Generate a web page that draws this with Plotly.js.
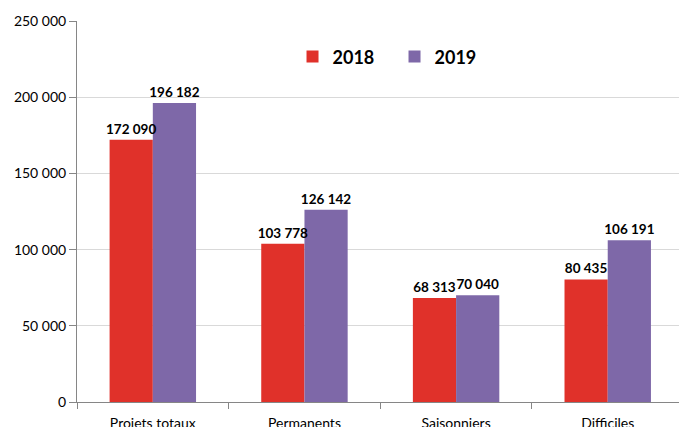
<!DOCTYPE html>
<html><head><meta charset="utf-8">
<script src="https://cdn.plot.ly/plotly-3.0.1.min.js"></script>
<style>html,body{margin:0;padding:0;overflow:hidden;background:#fff}</style>
</head><body><div id="chart" style="width:679px;height:427px"></div>
<script>
const categories = ["Projets totaux", "Permanents", "Saisonniers", "Difficiles"];
const values2018 = [172090, 103778, 68313, 80435];
const values2019 = [196182, 126142, 70040, 106191];
const seriesNames = ["2018", "2019"];
const seriesColors = ["#E0312A", "#7E68A8"];

const font = "Lato, 'Open Sans', sans-serif";
const labelFont = {family: font, size: 13.5, color: "#000", weight: "bold"};
const seriesValues = [values2018, values2019];
const traces = [];
// bars first
seriesValues.forEach((vals, i) => traces.push({
  type: "bar", name: seriesNames[i], x: categories, y: vals, offsetgroup: "g" + i,
  marker: {color: seriesColors[i]}, hoverinfo: "skip"
}));
// value labels on top of all bars
seriesValues.forEach((vals, i) => traces.push({
  type: "bar", name: seriesNames[i], x: categories, y: vals, offsetgroup: "g" + i,
  showlegend: false, marker: {color: "rgba(0,0,0,0)"},
  texttemplate: "%{y:,}", textposition: "outside", constraintext: "none",
  textfont: labelFont, cliponaxis: false
}));
const layout = {
  width: 679, height: 427,
  margin: {l: 77, r: 0, t: 21, b: 25},
  separators: ", ",
  font: {family: font, size: 14, color: "#000"},
  barmode: "group", bargap: 0.43, bargroupgap: 0,
  plot_bgcolor: "#fff", paper_bgcolor: "#fff",
  showlegend: true,
  legend: {orientation: "h", x: 0.358, y: 0.906, xanchor: "left", yanchor: "middle",
           font: {family: font, size: 18, weight: "bold"}, itemwidth: 30,
           entrywidth: 57, entrywidthmode: "pixels", bgcolor: "rgba(0,0,0,0)"},
  xaxis: {range: [-0.5, 3.47], showline: true, linecolor: "#868686", ticks: "outside",
          tickson: "boundaries", ticklen: 6, tickcolor: "#868686", showgrid: false,
          ticklabelstandoff: 8, tickfont: {family: font, size: 14}},
  yaxis: {range: [0, 250000], dtick: 50000, tickformat: ",", showline: true, linecolor: "#868686",
          ticks: "outside", ticklen: 7, tickcolor: "#868686", gridcolor: "#D9D9D9",
          zeroline: false, tickfont: {family: font, size: 14}}
};
Plotly.newPlot("chart", traces, layout, {displayModeBar: false, staticPlot: true});
</script></body></html>
